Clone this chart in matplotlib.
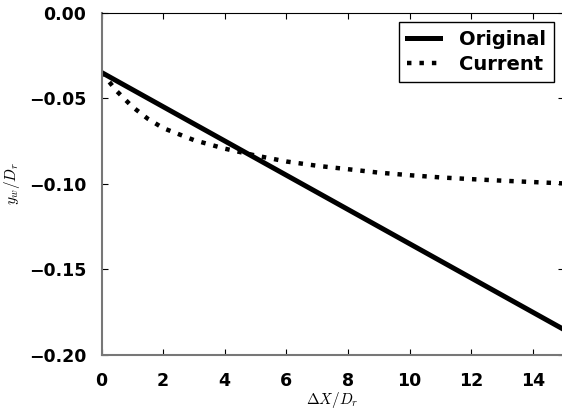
import numpy as np
import matplotlib
matplotlib.use("Agg")
import matplotlib.pyplot as plt

plt.rcParams['mathtext.fontset'] = 'cm'
plt.rcParams['font.weight'] = 'bold'

# data
x_orig = [0, 15]
y_orig = [-0.035, -0.185]

x_curr = [0, 0.5, 1, 1.5, 2, 3, 4, 5, 6, 7, 8, 9, 10, 11, 12, 13, 14, 15]
y_curr = [-0.035, -0.046, -0.055, -0.062, -0.0675, -0.0745, -0.0795, -0.0835,
          -0.087, -0.0895, -0.0915, -0.0935, -0.095, -0.0963, -0.0973,
          -0.0982, -0.099, -0.0998]

xticks = [0, 2, 4, 6, 8, 10, 12, 14]
yticks = [0.00, -0.05, -0.10, -0.15, -0.20]

fig = plt.figure(figsize=(5.62, 4.16), dpi=100)
ax = fig.add_axes([101.5 / 562, 1 - 355 / 416, 462 / 562, 342.5 / 416])

ax.plot(x_orig, y_orig, 'k-', lw=3.6, label='Original')
ax.plot(x_curr, y_curr, color='k', ls=(0, (1, 1.8)), lw=3.2, label='Current')

ax.set_xlim(0, 15)
ax.set_ylim(-0.20, 0.00)
ax.set_xticks(xticks)
ax.set_yticks(yticks)
ax.set_yticklabels(['%.2f' % v if v == 0 else '\u2212%.2f' % abs(v) for v in yticks])
ax.tick_params(direction='in', top=True, right=True, labelsize=12.5, length=4)
ax.tick_params(axis='x', pad=12)
ax.tick_params(axis='y', pad=11)

ax.spines['left'].set_color('#777777')
ax.spines['bottom'].set_color('#777777')
ax.spines['left'].set_linewidth(1.5)
ax.spines['bottom'].set_linewidth(1.5)

ax.set_xlabel(r'$\Delta X/D_r$', fontsize=11, labelpad=0)
ax.set_ylabel(r'$y_w/D_r$', fontsize=11, labelpad=5)

leg = ax.legend(loc='upper right', prop={'weight': 'bold', 'size': 14},
                fancybox=False, framealpha=1, handlelength=1.7,
                handletextpad=1.0, borderaxespad=0.5, labelspacing=0.3)
leg.get_frame().set_edgecolor('black')

fig.savefig('out.png', dpi=100)
